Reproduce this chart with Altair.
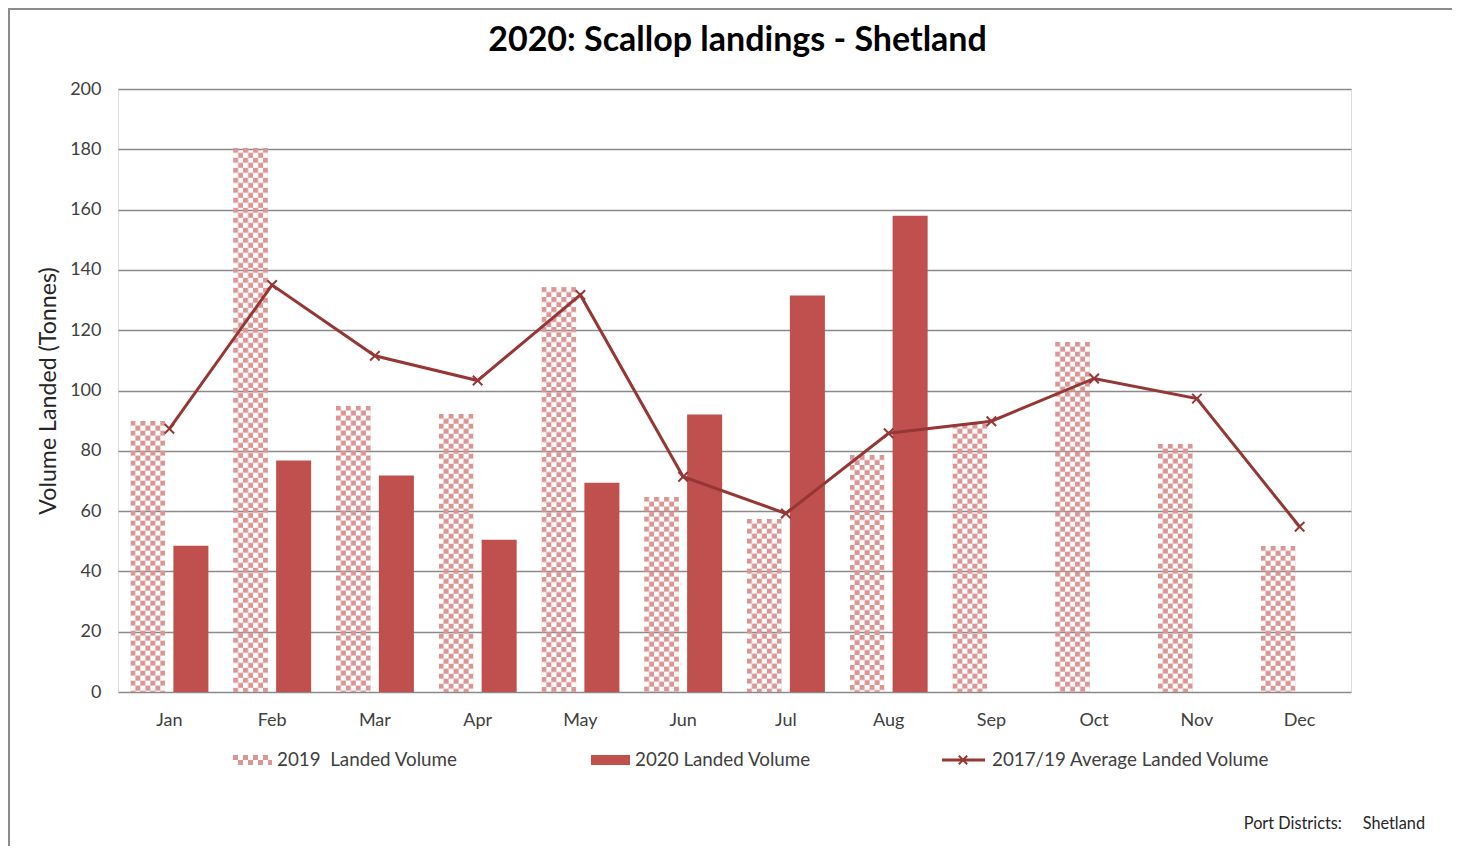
import altair as alt
import pandas as pd
from urllib.parse import quote

# ---------------- data ----------------
MONTHS = ["Jan", "Feb", "Mar", "Apr", "May", "Jun", "Jul", "Aug", "Sep", "Oct", "Nov", "Dec"]
SERIES = ["2019\u00a0\u00a0Landed Volume", "2020 Landed Volume", "2017/19 Average Landed Volume"]
V2019 = [90, 180.5, 95, 92.3, 134.3, 64.8, 57.5, 78.6, 89, 116.2, 82.4, 48.5]
V2020 = [48.5, 76.8, 71.8, 50.5, 69.4, 92, 131.5, 158, None, None, None, None]
AVG = [87.3, 135, 111.5, 103.3, 131.7, 71.4, 59.2, 85.8, 89.8, 104, 97.3, 54.8]
TITLE = "2020: Scallop landings - Shetland"
Y_TITLE = "Volume Landed (Tonnes)"
FOOTNOTE = "Port Districts:\u00a0\u00a0\u00a0\u00a0\u00a0Shetland"
Y_TICKS = [0, 20, 40, 60, 80, 100, 120, 140, 160, 180, 200]

# ---------------- style ----------------
W, H = 1233, 603
FONT = "Lato"
TXT = "#404040"
PINK = "#DA9694"
RED = "#C0504D"
DARK = "#953735"
GRID = "#8A8A8A"

checker_svg = (
    "<svg xmlns='http://www.w3.org/2000/svg' width='100%' height='100%'>"
    "<defs><pattern id='c' width='10' height='10' patternUnits='userSpaceOnUse'>"
    f"<rect width='5' height='5' fill='{PINK}'/>"
    f"<rect x='5' y='5' width='5' height='5' fill='{PINK}'/>"
    "</pattern></defs><rect width='100%' height='100%' fill='url(#c)'/></svg>"
)
CHECKER = "data:image/svg+xml," + quote(checker_svg)
XMARK = "M-1,-1L1,1M-1,1L1,-1"

rows = []
for m, v in zip(MONTHS, V2019):
    rows.append({"month": m, "series": SERIES[0], "value": v})
for m, v in zip(MONTHS, V2020):
    if v is not None:
        rows.append({"month": m, "series": SERIES[1], "value": v})
bars = pd.DataFrame(rows)
line_df = pd.DataFrame({"month": MONTHS, "avg": AVG})

x_axis = alt.Axis(title=None, labelAngle=0, ticks=False, domain=False, grid=False,
                  labelPadding=19, labelFontSize=18, labelColor=TXT, labelFont=FONT)
x_scale = alt.Scale(paddingInner=0, paddingOuter=0)
y_scale = alt.Scale(domain=[0, 200])
y_axis = alt.Axis(values=Y_TICKS, title=Y_TITLE, grid=True, gridColor=GRID, gridWidth=1.4,
                  ticks=False, domain=False, labelPadding=17, labelFontSize=18,
                  labelColor=TXT, labelFont=FONT, titleFont=FONT, titleFontSize=23.2,
                  titleFontWeight="normal", titleColor="#262626", titleX=-70, titleY=H / 2,
                  titleAngle=-90, titleBaseline="middle", titleAlign="center")

def X():
    return alt.X("month:N", sort=MONTHS, scale=x_scale, axis=x_axis)

xoff = alt.XOffset("series:N", scale=alt.Scale(domain=[SERIES[0], SERIES[1]],
                                               paddingInner=0.186, paddingOuter=0.287))

b19 = alt.Chart(bars).transform_filter(alt.datum.series == SERIES[0]).mark_image(aspect=False).encode(
    x=X(), xOffset=xoff,
    y=alt.Y("value:Q", scale=y_scale, axis=y_axis), y2=alt.datum(0),
    url=alt.value(CHECKER),
)
b20 = alt.Chart(bars).transform_filter(alt.datum.series == SERIES[1]).mark_bar(color=RED).encode(
    x=X(), xOffset=xoff,
    y=alt.Y("value:Q", scale=y_scale, axis=y_axis),
)
line = alt.Chart(line_df).mark_line(color=DARK, strokeWidth=3).encode(
    x=X(), y=alt.Y("avg:Q", scale=y_scale, axis=y_axis)
)
pts = alt.Chart(line_df).mark_point(shape=XMARK, filled=False, stroke=DARK, strokeWidth=2,
                                    size=90, opacity=1).encode(
    x=X(), y=alt.Y("avg:Q", scale=y_scale, axis=y_axis)
)

one = alt.Data(values=[{}])
LY = 760 - 89
LFS = 18.8
legend_layers = [
    alt.Chart(one).mark_image(aspect=False).encode(
        x=alt.value(233 - 118), x2=alt.value(272 - 118),
        y=alt.value(LY - 5), y2=alt.value(LY + 5), url=alt.value(CHECKER)),
    alt.Chart(one).mark_text(align="left", baseline="middle", font=FONT, fontSize=LFS, color=TXT).encode(
        x=alt.value(277 - 118), y=alt.value(LY), text=alt.value(SERIES[0])),
    alt.Chart(one).mark_rect(color=RED).encode(
        x=alt.value(591 - 118), x2=alt.value(630 - 118),
        y=alt.value(LY - 5), y2=alt.value(LY + 5)),
    alt.Chart(one).mark_text(align="left", baseline="middle", font=FONT, fontSize=LFS, color=TXT).encode(
        x=alt.value(635 - 118), y=alt.value(LY), text=alt.value(SERIES[1])),
    alt.Chart(one).mark_rule(color=DARK, strokeWidth=3).encode(
        x=alt.value(942 - 118), x2=alt.value(985 - 118), y=alt.value(LY)),
    alt.Chart(one).mark_point(shape=XMARK, filled=False, stroke=DARK, strokeWidth=2, size=70, opacity=1).encode(
        x=alt.value(963 - 118), y=alt.value(LY)),
    alt.Chart(one).mark_text(align="left", baseline="middle", font=FONT, fontSize=LFS, color=TXT).encode(
        x=alt.value(992 - 118), y=alt.value(LY), text=alt.value(SERIES[2])),
    alt.Chart(one).mark_text(align="right", baseline="middle", font=FONT, fontSize=16.3, color="#262626").encode(
        x=alt.value(1425 - 118), y=alt.value(824 - 89), text=alt.value(FOOTNOTE)),
    alt.Chart(one).mark_rect(fillOpacity=0, stroke="#8C8C8C", strokeWidth=2).encode(
        x=alt.value(-109), x2=alt.value(W + 300), y=alt.value(-80), y2=alt.value(H + 400)),
]

chart = alt.layer(b19, b20, line, pts, *legend_layers).properties(
    width=W, height=H,
    title=alt.TitleParams(TITLE, font=FONT, fontSize=34, fontWeight="bold", color="#000000",
                          anchor="middle", frame="group", offset=-50, dx=3),
    autosize=alt.AutoSizeParams(type="none"),
    padding={"left": 110, "top": 81, "right": 101, "bottom": 154},
).configure_view(stroke=None).configure(background="white")

chart.save("out.html", embed_options={"renderer": "svg", "actions": False})
